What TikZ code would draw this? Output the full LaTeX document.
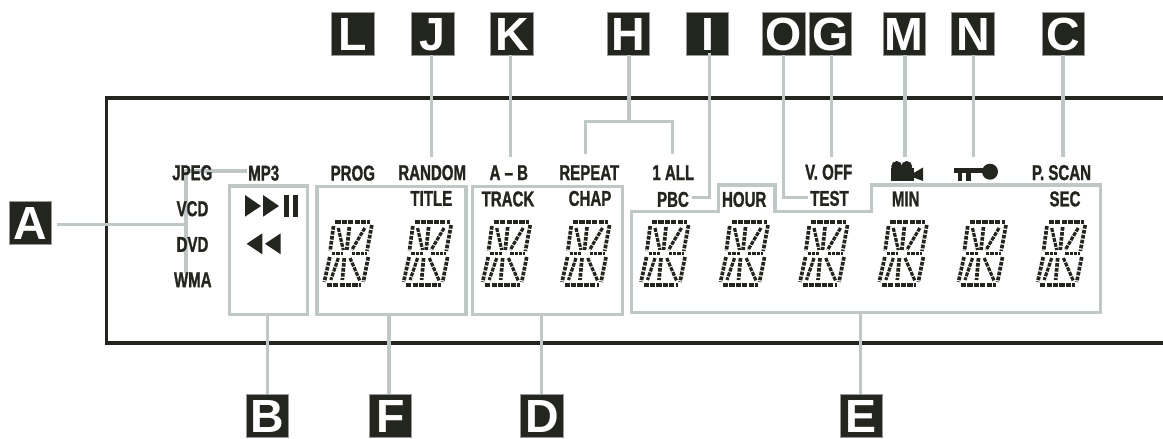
\documentclass[tikz,border=0pt]{standalone}
\usepackage{fontspec}
\newfontfamily\lcdfont[FakeStretch=0.7,FakeBold=1.2]{Liberation Sans}
\newfontfamily\badgefont{Liberation Sans}
\definecolor{ink}{HTML}{23251F}
\definecolor{leader}{HTML}{C0C7C7}
\tikzset{
  frameline/.style={draw=ink,line width=3.3pt},
  leaderline/.style={draw=leader,line width=3.3pt},
  grouprect/.style={draw=leader,line width=3.3pt,inner sep=0pt,fill=none,anchor=north west},
  badge/.style={draw=gray!80,line width=0.7pt,fill=ink,text=white,inner sep=0pt,minimum size=42.5pt,
    font=\badgefont\bfseries\fontsize{46.5}{46.5}\selectfont,text height=33.5pt,text depth=0pt,anchor=center},
  lcdlabel/.style={text=ink,inner sep=0pt,font=\lcdfont\bfseries\fontsize{21.5}{21.5}\selectfont,
    text height=15.7pt,text depth=0pt,anchor=center},
  hseg/.style={draw=ink,line width=3.8pt,dash pattern=on 5.2pt off 1.2pt},
  mseg/.style={draw=ink,line width=3.2pt,dash pattern=on 3.4pt off 1pt},
  vseg/.style={draw=ink,line width=3.7pt,dash pattern=on 3.7pt off 1.3pt},
  dseg/.style={draw=ink,line width=3.2pt,dash pattern=on 4pt off 1.1pt},
  iconfill/.style={fill=ink,draw=none}
}
\newcommand{\lcddigit}[1]{%
  \begin{scope}[shift={(#1,220)}]
    \draw[hseg] (12,2)--(47,2);
    \draw[hseg] (3.5,65)--(38,65);
    \draw[mseg] (8.5,33.5)--(20,33.5);
    \draw[mseg] (28.5,33.5)--(43.5,33.5);
    \draw[vseg] (10.2,6)--(6.8,31);
    \draw[vseg] (48.5,5)--(43.7,31);
    \draw[vseg] (6.5,37)--(1,62);
    \draw[vseg] (45,37)--(40,62);
    \draw[vseg] (26,7)--(23.5,30);
    \draw[vseg] (21,38)--(19,60);
    \draw[dseg] (15,8)--(20,30);
    \draw[dseg] (41.5,8)--(28.5,30);
    \draw[dseg] (15,38)--(7.5,60);
    \draw[dseg] (26.7,38)--(36.7,61);
  \end{scope}}
\begin{document}
\begin{tikzpicture}[x=1pt,y=-1pt]
\useasboundingbox (0,0) rectangle (1163,439);
% display frame
\coordinate (ftr) at (1163,98);
\coordinate (ftl) at (106.7,98);
\coordinate (fbl) at (106.7,343);
\coordinate (fbr) at (1163,343);
\draw[frameline] (ftr)--(ftl)--(fbl)--(fbr);
% badges
\foreach \nm/\px/\py in {L/353/33.8,J/432.8/33.8,K/511.8/33.8,H/628.5/33.8,I/707.5/33.8,O/783.8/33.8,G/830.2/33.8,M/904.2/33.8,N/972.8/33.8,C/1063.5/33.8,A/30.4/222.8,B/267.2/415.8,F/390.2/415.8,D/541.8/415.8,E/861.2/415.8}
  {\node[badge] (\nm) at (\px,\py) {\nm};}
% group outlines
\node[grouprect,minimum width=78.3pt,minimum height=128.4pt] (boxB) at (227.7,184.3) {};
\node[grouprect,minimum width=149pt,minimum height=127.7pt] (boxF) at (315.3,185) {};
\node[grouprect,minimum width=150pt,minimum height=127.7pt] (boxD) at (470.7,185) {};
\coordinate (e1) at (631.3,312.7);
\coordinate (e2) at (631.3,211.5);
\coordinate (e3) at (718.3,211.5);
\coordinate (e4) at (718.3,185);
\coordinate (e5) at (775,185);
\coordinate (e6) at (775,211.5);
\coordinate (e7) at (871.7,211.5);
\coordinate (e8) at (871.7,185);
\coordinate (e9) at (1100.7,185);
\coordinate (e10) at (1100.7,312.7);
\draw[leaderline,miter limit=10] (e1)--(e2)--(e3)--(e4)--(e5)--(e6)--(e7)--(e8)--(e9)--(e10)--cycle;
% leaders, top
\coordinate (tj) at (431.3,156.7);
\coordinate (tk) at (510.3,156.7);
\coordinate (hj) at (629,121.7);
\coordinate (hl) at (585.3,154);
\coordinate (hr) at (672.7,154);
\coordinate (ic) at (709.3,197.3);
\coordinate (ie) at (692.3,197.3);
\coordinate (oc) at (783.3,197.3);
\coordinate (oe) at (808,197.3);
\coordinate (tg) at (831.3,156.7);
\coordinate (tm) at (905,156.7);
\coordinate (tn) at (973.7,156.7);
\coordinate (tc) at (1063,156.7);
\draw[leaderline] (J.south-|tj) -- (tj);
\draw[leaderline] (K.south-|tk) -- (tk);
\draw[leaderline] (H.south-|hj) -- (hj);
\draw[leaderline] (hl) -- (hl|-hj) -- (hr|-hj) -- (hr);
\draw[leaderline] (I.south-|ic) ++(0,-2) -- (ic) -- (ie);
\draw[leaderline] (O.south-|oc) -- (oc) -- (oe);
\draw[leaderline] (G.south-|tg) -- (tg);
\draw[leaderline] (M.south-|tm) -- (tm);
\draw[leaderline] (N.south-|tn) -- (tn);
\draw[leaderline] (C.south-|tc) -- (tc);
% leaders, left
\coordinate (aj) at (186,224.7);
\coordinate (at) at (186,171);
\coordinate (abot) at (186,273);
\coordinate (am) at (246.7,171);
\draw[leaderline] (A.east|-aj) ++(5,0) -- (aj);
\draw[leaderline] (abot) -- (at) -- (am);
% leaders, bottom
\coordinate (fbt) at (389,312.7);
\coordinate (ebt) at (860.7,312.7);
\draw[leaderline] (boxB.south-|B.north) -- (B.north);
\draw[leaderline] (fbt) -- (F.north-|fbt);
\draw[leaderline] (boxD.south-|D.north) -- (D.north);
\draw[leaderline] (ebt) -- (E.north-|ebt);
% labels
\foreach \nm/\px/\py/\txt in {
  jpeg/192.3/172.3/JPEG, mp3/263.7/172.7/MP3, vcd/192.5/208.3/VCD, dvd/192.5/244/DVD, wma/192.8/279.3/WMA,
  prog/352.8/172.7/PROG, random/432.2/172.2/RANDOM, ab/508.8/172.2/A – B, repeat/589.3/172.2/REPEAT, oneall/673.3/172.2/1 ALL,
  title/431.3/198/TITLE, track/508/198.5/TRACK, chap/590/198/CHAP, pbc/673/199/PBC, hour/744.2/199/HOUR,
  test/829.5/198/TEST, voff/828.7/171.7/V. OFF, pscan/1061.5/172.2/P. SCAN, min/905.7/198.5/MIN, sec/1065/198.5/SEC}
  {\node[lcdlabel] (\nm) at (\px,\py) {\txt};}
% transport icons
\fill[iconfill] (245,195)--(261,206)--(245,216.7)--cycle;
\fill[iconfill] (263,195)--(279,206)--(263,216.7)--cycle;
\fill[iconfill] (283.7,195) rectangle (289.3,216.7);
\fill[iconfill] (292.7,195) rectangle (298.3,216.7);
\fill[iconfill] (246.7,243.8)--(262.3,233.3)--(262.3,254.3)--cycle;
\fill[iconfill] (265,243.8)--(280.7,233.3)--(280.7,254.3)--cycle;
% camera
\fill[iconfill] (891,168) rectangle (913.5,181);
\fill[iconfill] (896.7,166.5) circle (5.5);
\fill[iconfill] (906.7,166.5) circle (5.5);
\fill[iconfill] (912,174)--(923,167.5)--(923,181)--(912,177)--cycle;
% key
\fill[iconfill] (990,171.7) circle (8);
\fill[iconfill] (954,168) rectangle (984,173);
\fill[iconfill] (958.3,172) rectangle (961.7,180.5);
\fill[iconfill] (966.3,172) rectangle (970.7,180.5);
% segment digits
\foreach \dx in {323.3,402.6,481.7,561,640,719.5,799,878.3,957.5,1036.7}
  {\lcddigit{\dx}}
\end{tikzpicture}
\end{document}
